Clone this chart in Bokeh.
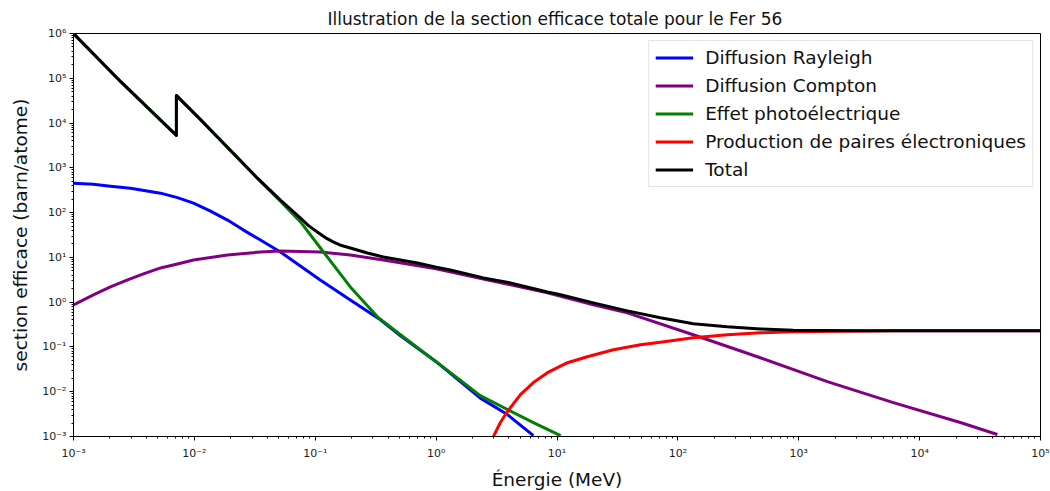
from bokeh.plotting import figure
from bokeh.models import Range1d, FixedTicker
from bokeh.embed import file_html
from bokeh.resources import INLINE

# ---- data (energy in MeV, cross section in barn/atom) ----
rayleigh_E = [0.001, 0.00146, 0.00202, 0.00296, 0.00525, 0.00724, 0.00984, 0.0136, 0.0188, 0.0255,
              0.0352, 0.0515, 0.110, 0.195, 0.346, 0.507, 1.0, 2.32, 3.89, 6.38]
rayleigh_s = [454, 431, 389, 351, 272, 216, 163, 108, 68.1, 40.7,
              24.4, 13.2, 3.14, 1.12, 0.404, 0.177, 0.0468, 0.0072, 0.00309, 0.00105]

compton_E = [0.001, 0.00146, 0.00202, 0.0028, 0.00379, 0.00525, 0.00724, 0.00984, 0.0188, 0.0352,
             0.0515, 0.110, 0.195, 0.366, 1.0, 2.46, 8.34, 20.0, 38.2, 134, 481, 1725, 6060,
             21700, 44000]
compton_s = [0.871, 1.46, 2.19, 3.14, 4.27, 5.81, 7.13, 8.75, 11.3, 13.2,
             13.9, 13.2, 11.3, 8.75, 5.6, 3.30, 1.61, 0.871, 0.578, 0.187, 0.0574, 0.0168, 0.00571,
             0.00205, 0.00111]

photo_E = [0.001, 0.00245, 0.0071, 0.0071, 0.0112, 0.0333, 0.0515, 0.0755, 0.117, 0.195,
           0.327, 0.507, 1.0, 2.32, 3.89, 6.38, 10.7]
photo_s = [9.9e5, 8.4e4, 5300, 41000, 12000, 580, 180, 62, 13.2, 2.19,
           0.471, 0.187, 0.047, 0.0082, 0.0040, 0.00205, 0.00105]

pair_E = [2.98, 3.40, 3.89, 4.98, 6.38, 8.34, 12.2, 17.8, 29.3, 49.0, 71.6, 134, 256, 481, 902,
          6060, 1e5]
pair_s = [0.00100, 0.00205, 0.00361, 0.00861, 0.0160, 0.0266, 0.0445, 0.0605, 0.0868, 0.112,
          0.128, 0.160, 0.187, 0.207, 0.218, 0.230, 0.230]

total_E = [0.001, 0.00245, 0.0071, 0.0071, 0.0112, 0.0333, 0.0515, 0.0624, 0.0755, 0.0879, 0.104,
           0.121, 0.142, 0.165, 0.195, 0.270, 0.366, 0.700, 1.0, 1.31, 2.46, 4.12, 8.34, 10.7,
           20.0, 38.2, 71.6, 134, 256, 481, 902, 3230, 1e5]
total_s = [1e6, 8.5e4, 5320, 41400, 12100, 587, 190, 120, 75.5, 51.3, 36.8,
           27.7, 22.0, 18.4, 16.2, 12.5, 10.2, 7.50, 6.0, 5.24, 3.48, 2.69, 1.69, 1.46,
           0.964, 0.640, 0.447, 0.33, 0.282, 0.252, 0.236, 0.230, 0.230]

series_labels = ["Diffusion Rayleigh", "Diffusion Compton", "Effet photoélectrique",
                 "Production de paires électroniques", "Total"]
series_colors = ["#0000ff", "#800080", "#008000", "#ff0000", "#000000"]

x_ticks = [1e-3, 1e-2, 1e-1, 1e0, 1e1, 1e2, 1e3, 1e4, 1e5]
x_tick_labels = ["10⁻³", "10⁻²", "10⁻¹", "10⁰", "10¹", "10²", "10³", "10⁴", "10⁵"]
y_ticks = [1e-3, 1e-2, 1e-1, 1e0, 1e1, 1e2, 1e3, 1e4, 1e5, 1e6]
y_tick_labels = ["10⁻³", "10⁻²", "10⁻¹", "10⁰", "10¹", "10²", "10³", "10⁴", "10⁵", "10⁶"]

title_text = "Illustration de la section efficace totale pour le Fer 56"
x_label = "Énergie (MeV)"
y_label = "section efficace (barn/atome)"

FONT = "DejaVu Sans"


def minor(major):
    out = []
    for t in major[:-1]:
        for k in range(2, 10):
            out.append(t * k)
    return out


p = figure(x_axis_type="log", y_axis_type="log",
           x_range=Range1d(1e-3, 1e5), y_range=Range1d(1e-3, 1e6),
           frame_width=967, frame_height=403,
           min_border_left=73, min_border_right=10, min_border_top=33, min_border_bottom=55,
           output_backend="svg", toolbar_location=None, title=title_text)

p.background_fill_color = "white"
p.border_fill_color = "white"
p.outline_line_color = "black"
p.outline_line_width = 1
p.xgrid.visible = False
p.ygrid.visible = False

p.title.text_font = FONT
p.title.text_font_size = "17px"
p.title.text_font_style = "normal"
p.title.align = "left"
p.title.offset = 254
p.title.text_color = "#111111"
p.title.standoff = 9

xs = [rayleigh_E, compton_E, photo_E, pair_E, total_E]
ys = [rayleigh_s, compton_s, photo_s, pair_s, total_s]
for xv, yv, lab, col in zip(xs, ys, series_labels, series_colors):
    p.line(xv, yv, line_color=col, line_width=3, line_join="round", legend_label=lab)

for ax, ticks, labels in ((p.xaxis[0], x_ticks, x_tick_labels), (p.yaxis[0], y_ticks, y_tick_labels)):
    ax.ticker = FixedTicker(ticks=ticks, minor_ticks=minor(ticks))
    ax.major_label_overrides = {t: l for t, l in zip(ticks, labels)}
    ax.major_label_text_font = FONT
    ax.major_label_text_font_size = "11px"
    ax.major_label_text_color = "#222222"
    ax.axis_line_color = "black"
    ax.major_tick_in = 0
    ax.major_tick_out = 4
    ax.minor_tick_in = 0
    ax.minor_tick_out = 2
    ax.major_tick_line_color = "black"
    ax.minor_tick_line_color = "black"
    ax.axis_label_text_font = FONT
    ax.axis_label_text_font_size = "18.5px"
    ax.axis_label_text_font_style = "normal"
    ax.axis_label_text_color = "#111111"

p.xaxis.axis_label = x_label
p.yaxis.axis_label = y_label
p.xaxis.major_label_standoff = 6
p.xaxis.axis_label_standoff = 6
p.yaxis.major_label_standoff = 3
p.yaxis.axis_label_standoff = 8

lg = p.legend[0]
lg.location = "top_right"
lg.margin = 7
lg.padding = 6
lg.spacing = 7
lg.glyph_height = 21
lg.label_height = 21
lg.glyph_width = 38
lg.label_standoff = 12
lg.label_text_font = FONT
lg.label_text_font_size = "18.5px"
lg.label_text_color = "#111111"
lg.border_line_color = "#cccccc"
lg.border_line_width = 1
lg.background_fill_color = "white"
lg.background_fill_alpha = 0.8

open("out.html", "w").write(file_html(p, INLINE))
